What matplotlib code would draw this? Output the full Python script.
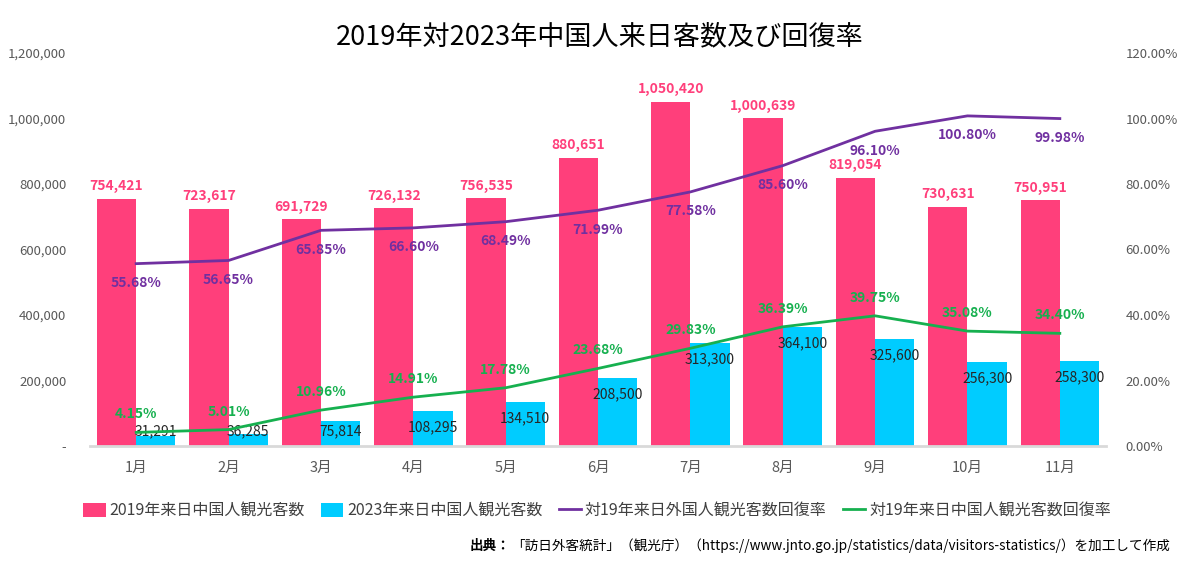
import matplotlib
matplotlib.use("Agg")
import matplotlib.pyplot as plt
import numpy as np
from matplotlib.patches import Patch
from matplotlib.lines import Line2D
from matplotlib.ticker import FuncFormatter, FixedLocator

plt.rcParams['font.family'] = ['Noto Sans CJK JP', 'DejaVu Sans']

months = ["1月", "2月", "3月", "4月", "5月", "6月", "7月", "8月", "9月", "10月", "11月"]
visitors_2019 = [754421, 723617, 691729, 726132, 756535, 880651, 1050420, 1000639, 819054, 730631, 750951]
visitors_2023 = [31291, 36285, 75814, 108295, 134510, 208500, 313300, 364100, 325600, 256300, 258300]
recovery_all = [55.68, 56.65, 65.85, 66.60, 68.49, 71.99, 77.58, 85.60, 96.10, 100.80, 99.98]
recovery_cn = [4.15, 5.01, 10.96, 14.91, 17.78, 23.68, 29.83, 36.39, 39.75, 35.08, 34.40]

left_ticks = [0, 200000, 400000, 600000, 800000, 1000000, 1200000]
right_ticks = [0, 20, 40, 60, 80, 100, 120]

title = "2019年対2023年中国人来日客数及び回復率"
legend_labels = ["2019年来日中国人観光客数", "2023年来日中国人観光客数",
                 "対19年来日外国人観光客数回復率", "対19年来日中国人観光客数回復率"]
source_bold = "出典："
source_rest = "「訪日外客統計」（観光庁）（https://www.jnto.go.jp/statistics/data/visitors-statistics/）を加工して作成"

RED = "#FF3F7B"
CYAN = "#00CCFF"
PURPLE = "#7030A0"
GREEN = "#16B04F"
GRAY = "#595959"

W, H = 1200, 569
fig = plt.figure(figsize=(W / 100, H / 100), dpi=100)
ax = fig.add_axes([90 / W, 1 - 446 / H, (1106 - 90) / W, (446 - 53) / H])
ax2 = ax.twinx()

x = np.arange(len(months))
bw = 0.425
ax.bar(x - bw / 2, visitors_2019, width=bw, color=RED, zorder=2)
ax.bar(x + bw / 2, visitors_2023, width=bw, color=CYAN, zorder=2)

ax.set_xlim(-0.5, len(months) - 0.5)
ax.set_ylim(0, 1200000)
ax2.set_ylim(0, 120)

ax.yaxis.set_major_locator(FixedLocator(left_ticks))
ax.yaxis.set_major_formatter(FuncFormatter(lambda v, p: "-" if v == 0 else f"{int(v):,}"))
ax2.yaxis.set_major_locator(FixedLocator(right_ticks))
ax2.yaxis.set_major_formatter(FuncFormatter(lambda v, p: f"{v:.2f}%"))

ax.set_xticks(x)
ax.set_xticklabels(months)
ax.tick_params(axis='x', length=0, pad=11, labelsize=10.5, labelcolor=GRAY)
ax.tick_params(axis='y', length=0, pad=17, labelsize=9.5, labelcolor=GRAY)
ax2.tick_params(axis='y', length=0, pad=14, labelsize=9.5, labelcolor=GRAY)

for a in (ax, ax2):
    for s in ("top", "left", "right"):
        a.spines[s].set_visible(False)
ax.spines["bottom"].set_color("#D9D9D9")
ax.spines["bottom"].set_linewidth(2)
ax2.spines["bottom"].set_visible(False)

ax2.plot(x, recovery_all, color=PURPLE, lw=2, zorder=3)
ax2.plot(x, recovery_cn, color=GREEN, lw=2, zorder=3)

# data labels
for xi, v in zip(x, visitors_2019):
    ax.annotate(f"{v:,}", (xi - bw / 2, v), xytext=(0, 4), textcoords="offset points",
                ha="center", va="bottom", color=RED, fontsize=10, fontweight="bold", zorder=5)
for xi, v in zip(x, visitors_2023):
    ly = max(v - 50000, 46000)
    ax.text(xi + bw / 2, ly, f"{v:,}", ha="center", va="center", color="#262626",
            fontsize=10, zorder=5)
for xi, v in zip(x, recovery_all):
    ax2.annotate(f"{v:.2f}%", (xi, v), xytext=(0, -14), textcoords="offset points",
                 ha="center", va="center", color=PURPLE, fontsize=10, fontweight="bold", zorder=6)
for xi, v in zip(x, recovery_cn):
    ax2.annotate(f"{v:.2f}%", (xi, v), xytext=(0, 13), textcoords="offset points",
                 ha="center", va="center", color=GREEN, fontsize=10, fontweight="bold", zorder=6)

fig.text(0.5, 1 - 37 / H, title, ha="center", va="center", fontsize=19.5, color="black")

handles = [Patch(facecolor=RED), Patch(facecolor=CYAN),
           Line2D([0], [0], color=PURPLE, lw=2), Line2D([0], [0], color=GREEN, lw=2)]
fig.legend(handles, legend_labels, loc="center", bbox_to_anchor=(597 / W, 1 - 511 / H),
           ncol=4, frameon=False, fontsize=11.5, handlelength=1.4, handleheight=0.9,
           handletextpad=0.25, columnspacing=1.0, labelcolor="#404040")

# source text
fig.canvas.draw()
r = fig.canvas.get_renderer()
tb = fig.text(470 / W, 1 - 546 / H, source_bold, ha="left", va="center", fontsize=9.8,
              fontweight="bold", color="black")
bb = tb.get_window_extent(r)
fig.text(bb.x1 / W, 1 - 546 / H, source_rest, ha="left", va="center", fontsize=9.8, color="black")

fig.savefig("out.png", dpi=100)
